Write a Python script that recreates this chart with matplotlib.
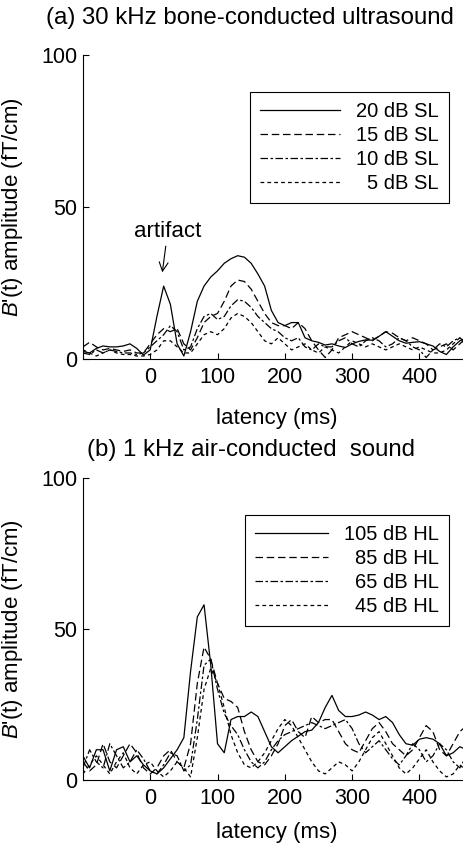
import numpy as np
import matplotlib
matplotlib.use("Agg")
import matplotlib.pyplot as plt

plt.rcParams['font.family'] = ['Liberation Sans', 'DejaVu Sans']
plt.rcParams['mathtext.fontset'] = 'custom'
plt.rcParams['mathtext.it'] = 'Liberation Sans:italic'
plt.rcParams['mathtext.rm'] = 'Liberation Sans'

# latency grid (ms), shared by all traces
latency = np.arange(-100, 471, 10)

# (a) 30 kHz bone-conducted ultrasound, amplitude in fT/cm
sl_labels = ['20 dB SL', '15 dB SL', '10 dB SL', '5 dB SL']
sl20 = [2.5, 2, 3.5, 4.3, 4, 4, 4.3, 5, 3.5, 1.3, 3, 14, 24, 18, 5, 1, 9, 19, 24, 27,
        29, 31.5, 33, 34, 33.5, 31.5, 28, 24, 16, 12, 11, 12, 12, 7, 6, 5.5, 4.6, 5, 4.3, 3.8,
        5, 5.8, 6.3, 6.2, 7.5, 9, 7.5, 6, 5.2, 5.5, 5.7, 5, 4.3, 2.5, 1.5, 4, 6, 7]
sl15 = [4, 5.5, 4, 3, 3.5, 3, 2.5, 3, 2, 2, 5, 8, 10, 9, 10, 5, 3, 7, 12, 14,
        15, 19, 24, 26, 25.5, 23, 19, 15, 12, 11, 11, 10, 12, 10, 6, 3, 0.5, 3, 7, 8,
        9, 8, 7, 6, 7.5, 9, 8.5, 7, 6, 7, 6, 5, 3, 4, 5, 3, 5, 7]
sl10 = [2, 1.5, 3, 2, 3, 2.5, 2, 2, 1.5, 2, 4, 6, 8, 11, 9, 3, 4, 10, 14, 15,
        13, 14, 17.5, 19.5, 19, 17, 14, 12, 10, 9, 7, 6, 7, 4, 3, 5, 4, 4, 6, 7,
        5, 4, 6, 7, 6, 4, 5, 7, 6, 4, 3, 0.5, 3, 5, 4, 6, 7, 5]
sl5 = [3, 2, 1, 2, 3, 2, 1.5, 1.5, 1, 1, 1.5, 3, 6, 6, 4, 2, 2, 5, 8, 9,
       8, 10, 13.5, 15, 14, 12, 9, 6, 5, 7, 5, 3, 4, 5, 3, 2, 4, 3, 2, 4,
       6, 5, 4, 5, 4, 3, 4, 5, 4, 3, 4, 3, 2, 2, 3, 5, 7, 4]

# (b) 1 kHz air-conducted sound
hl_labels = ['105 dB HL', '85 dB HL', '65 dB HL', '45 dB HL']
hl105 = [8, 4, 10, 10, 3, 10, 11, 6, 8, 5, 3, 2, 4, 7, 10, 14, 36, 54, 58, 38,
         12, 9, 20, 21, 21, 22.5, 21, 16, 11, 9, 11, 13, 14.5, 16, 16.5, 19, 24, 28, 23, 21,
         21, 21.5, 22.5, 21.5, 20, 21, 19, 15, 12, 11.5, 13.5, 14, 13.5, 12, 8, 9, 11, 10]
hl85 = [6, 3, 5, 12, 6, 4, 8, 12, 9, 4, 2, 4, 8, 10, 6, 4, 12, 32, 44, 40,
        32, 27, 26, 24, 16, 10, 6, 5, 8, 12, 18, 20, 16, 14, 21, 19, 20, 20, 16, 12,
        10, 9, 13, 17, 19, 16, 12, 10, 8, 10, 14, 18, 16, 10, 8, 12, 16, 18]
hl65 = [4, 10, 6, 4, 12, 8, 4, 6, 10, 7, 3, 2, 5, 9, 8, 3, 5, 20, 38, 40,
        30, 22, 18, 15, 10, 6, 4, 6, 10, 13, 15, 16, 17, 18, 19, 18, 17, 18, 19, 20,
        17, 12, 9, 11, 13, 10, 7, 5, 8, 12, 10, 6, 8, 12, 10, 6, 4, 8]
hl45 = [2, 5, 8, 5, 2, 6, 9, 4, 2, 5, 6, 3, 1, 3, 6, 4, 1, 14, 30, 37,
        32, 24, 15, 9, 5, 4, 6, 9, 13, 17, 20, 18, 14, 10, 6, 3, 2, 4, 6, 5,
        3, 6, 10, 14, 16, 12, 8, 4, 2, 4, 7, 10, 6, 3, 1, 2, 5, 3]

styles = ['-', (0, (6, 3)), (0, (6, 2, 2, 2)), (0, (3, 2.5))]

fig = plt.figure(figsize=(4.63, 8.5), dpi=100)
ax1 = fig.add_axes([0.179, 0.5776, 0.836, 0.3576])
ax2 = fig.add_axes([0.179, 0.0824, 0.836, 0.3553])


def style_axis(ax, label_y):
    ax.set_xlim(-100, 475)
    ax.set_ylim(0, 100)
    ax.spines['top'].set_visible(False)
    ax.spines['right'].set_visible(False)
    for s in ['left', 'bottom']:
        ax.spines[s].set_linewidth(0.8)
    ax.set_xticks([0, 100, 200, 300, 400])
    ax.set_yticks([0, 50, 100])
    ax.tick_params(direction='in', length=4.5, width=0.8, labelsize=15.5)
    ax.tick_params(axis='x', pad=6)
    ax.tick_params(axis='y', pad=4)
    ax.set_xlabel('latency (ms)', fontsize=16)
    ax.xaxis.set_label_coords(0.5, label_y)
    ax.set_ylabel("$B$'(t) amplitude (fT/cm)", fontsize=16)
    ax.yaxis.set_label_coords(-0.15, 0.5)


def right_align(leg):
    # legend labels are flush right in the original
    fig.canvas.draw()
    r = fig.canvas.get_renderer()
    widths = [t.get_window_extent(r).width for t in leg.get_texts()]
    w = max(widths)
    for t, wi in zip(leg.get_texts(), widths):
        t.set_position((w - wi, 0))


for ys, lab, ls in zip([sl20, sl15, sl10, sl5], sl_labels, styles):
    ax1.plot(latency, ys, color='black', lw=0.9, ls=ls, label=lab)
for ys, lab, ls in zip([hl105, hl85, hl65, hl45], hl_labels, styles):
    ax2.plot(latency, ys, color='black', lw=0.9, ls=ls, label=lab)

style_axis(ax1, -0.16)
style_axis(ax2, -0.14)

ax1.annotate('artifact', xy=(18, 28.5), xytext=(26, 38.5), fontsize=16,
             ha='center', va='bottom',
             arrowprops=dict(arrowstyle='->', color='black', lw=0.8,
                             shrinkA=1, shrinkB=0,
                             connectionstyle='arc3'))

leg_kw = dict(loc='upper right', fontsize=14.5, frameon=True, fancybox=False,
              edgecolor='black', framealpha=1, handletextpad=0.8,
              labelspacing=0.25, borderpad=0.5, borderaxespad=0)
leg1 = ax1.legend(bbox_to_anchor=(0.946, 0.878), handlelength=4.0, **leg_kw)
leg1.get_frame().set_linewidth(0.8)
leg2 = ax2.legend(bbox_to_anchor=(0.946, 0.877), handlelength=3.6, **leg_kw)
leg2.get_frame().set_linewidth(0.8)
right_align(leg1)
right_align(leg2)

fig.text(0.54, 0.979, '(a) 30 kHz bone-conducted ultrasound', fontsize=17.3,
         ha='center', va='center')
fig.text(0.542, 0.471, '(b) 1 kHz air-conducted  sound', fontsize=17.3,
         ha='center', va='center')

fig.savefig('out.png', dpi=100, facecolor='white')
